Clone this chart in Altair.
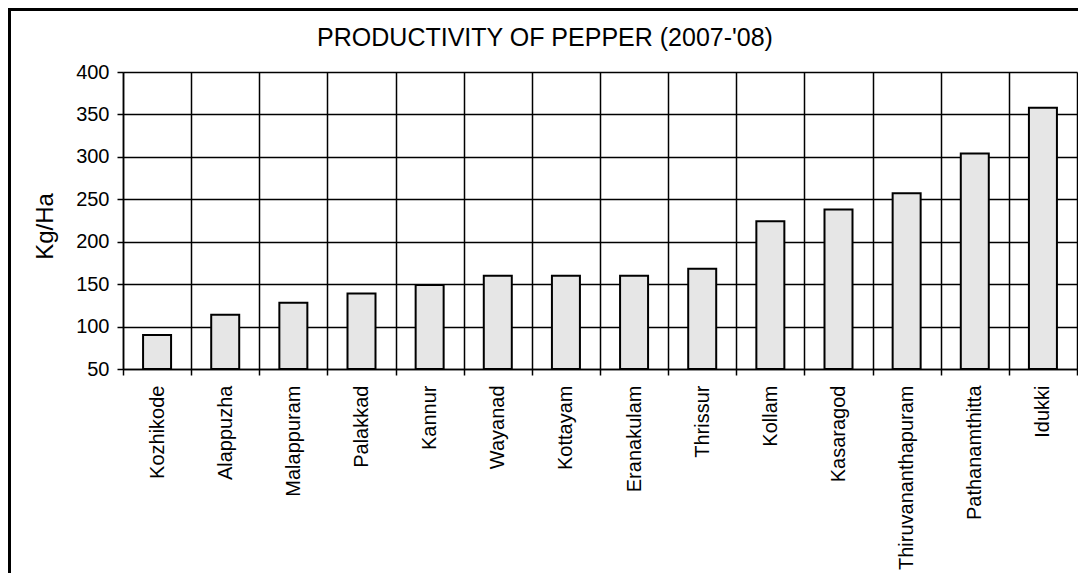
import altair as alt
import pandas as pd

districts = ["Kozhikode", "Alappuzha", "Malappuram", "Palakkad", "Kannur", "Wayanad",
             "Kottayam", "Eranakulam", "Thrissur", "Kollam", "Kasaragod",
             "Thiruvananthapuram", "Pathanamthitta", "Idukki"]
productivity = [90, 114, 128, 139, 149, 160, 160, 160, 168, 224, 238, 257, 304, 358]
y_ticks = [50, 100, 150, 200, 250, 300, 350, 400]

df = pd.DataFrame({"District": districts, "Productivity": productivity})
FONT = "Liberation Sans"

bars = alt.Chart(df).mark_bar(width=28, fill="#e6e6e6", stroke="black", strokeWidth=2,
                              opacity=1).encode(
    x=alt.X("District:N", sort=districts,
            scale=alt.Scale(paddingInner=0, paddingOuter=0),
            axis=alt.Axis(title=None, labelAngle=-90, labelAlign="right", labelBaseline="middle",
                          labelFontSize=20, labelFont=FONT, labelColor="black", labelLimit=0,
                          labelPadding=10, tickSize=6, tickColor="black", tickWidth=1.5,
                          tickBand="extent", grid=True, gridColor="black", gridWidth=1.5,
                          gridOpacity=1, domainColor="black", domainWidth=1.5)),
    y=alt.Y("Productivity:Q",
            scale=alt.Scale(domain=[50, 400], zero=False, nice=False),
            axis=alt.Axis(values=y_ticks, title="Kg/Ha", titleFontSize=24, titleFont=FONT,
                          titleFontWeight="normal", titleColor="black", titleAngle=-90,
                          titleX=-78, titleY=154, titleAlign="center", titleBaseline="middle",
                          labelFontSize=20, labelFont=FONT, labelColor="black", labelPadding=8,
                          tickSize=6, tickColor="black", tickWidth=1.5, grid=True,
                          gridColor="black", gridWidth=1.5, gridOpacity=1,
                          domainColor="black", domainWidth=1.5)),
    y2=alt.datum(50),
)

frame = alt.Chart(alt.Data(values=[{}])).mark_rect(
    fill=None, stroke="black", strokeWidth=3, opacity=1, strokeOpacity=1
).encode(
    x=alt.value(-113.5), x2=alt.value(1200), y=alt.value(-62.5), y2=alt.value(700)
)

chart = alt.layer(bars, frame).properties(
    width=954, height=297,
    title=alt.TitleParams("PRODUCTIVITY OF PEPPER (2007-'08)", fontSize=25, font=FONT,
                          fontWeight="normal", color="black", anchor="middle", frame="group",
                          dx=-55, offset=-63, baseline="alphabetic"),
    autosize="none",
    padding={"left": 115, "top": 64, "right": 1, "bottom": 204},
).configure_view(stroke="black", strokeWidth=1.5).configure(background="white")

chart.save("out.html", embed_options={"renderer": "svg", "actions": False})
